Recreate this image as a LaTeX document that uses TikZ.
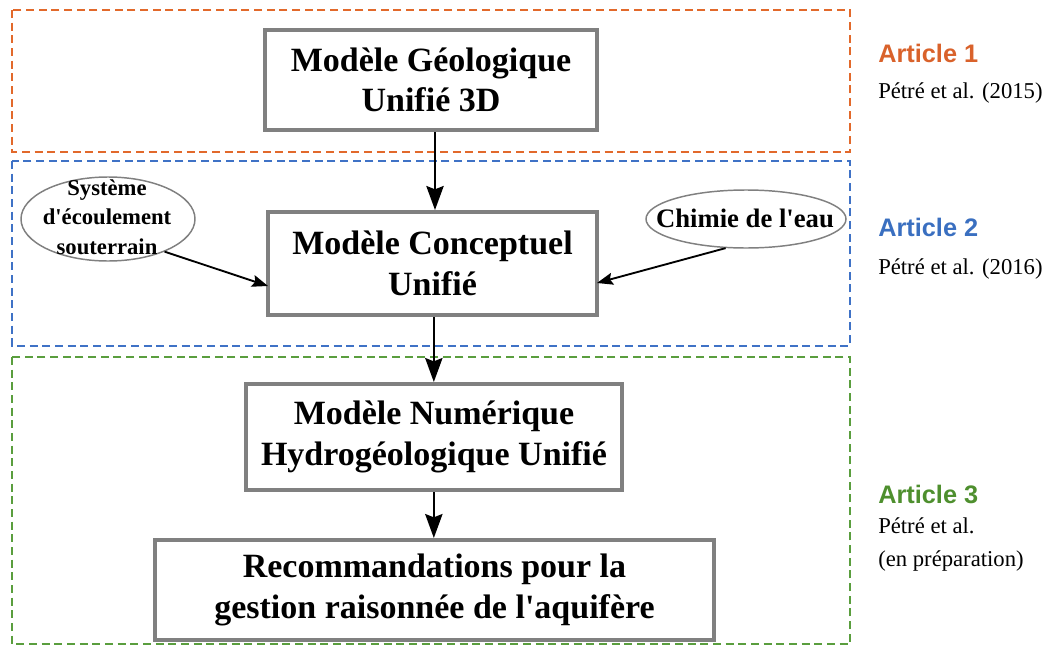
\documentclass[tikz,border=0pt]{standalone}
\usepackage{fontspec}
\setmainfont{Liberation Serif}[Ligatures=TeXOff]
\newfontfamily\labsans{Liberation Sans}
\usetikzlibrary{arrows.meta,shapes.geometric}
\definecolor{orgc}{HTML}{E2692B}
\definecolor{bluc}{HTML}{3F72C6}
\definecolor{grnc}{HTML}{5A9E3E}
\definecolor{orgt}{HTML}{D9622B}
\definecolor{blut}{HTML}{3A6FC0}
\definecolor{grnt}{HTML}{4E8F2E}
\definecolor{boxg}{HTML}{808080}
\tikzset{
  x=0.75pt,y=-0.75pt,
  zone/.style={line width=1.5pt,dash pattern=on 6pt off 3.5pt},
  mainbox/.style={draw=boxg,line width=3pt,fill=white,align=center,inner sep=0pt,
    font=\fontsize{25.5}{30.5}\selectfont\bfseries},
  oval/.style={draw=boxg,line width=1.1pt,ellipse,fill=white,align=center,inner sep=0pt},
  ovaltext/.style={align=center,inner sep=0pt,font=\fontsize{17}{22}\selectfont\bfseries},
  flow/.style={line width=1.5pt,-{Stealth[length=18pt,width=13pt,inset=2.5pt]}},
  side/.style={line width=1.4pt,-{Stealth[length=12pt,width=9pt,inset=2pt]}},
  arttitle/.style={anchor=base west,inner sep=0pt,font=\labsans\fontsize{19}{22}\selectfont\bfseries},
  artref/.style={anchor=base west,inner sep=0pt,font=\fontsize{17}{22}\selectfont},
}
\begin{document}
\begin{tikzpicture}
\useasboundingbox (0,0) rectangle (1050,646);
% zones
\draw[zone,orgc] (12,10) rectangle (850,152);
\draw[zone,bluc] (12,161) rectangle (850,346);
\draw[zone,grnc] (12,357) rectangle (850,644);
% boxes
\node[mainbox,minimum width=332*0.75pt,minimum height=100*0.75pt] (geo) at (431,80) {Modèle Géologique\\Unifié 3D};
\node[mainbox,minimum width=329*0.75pt,minimum height=103*0.75pt] (conc) at (432.5,263.5) {Modèle Conceptuel\\Unifié};
\node[mainbox,minimum width=376*0.75pt,minimum height=106*0.75pt] (num) at (434,437) {Modèle Numérique\\Hydrogéologique Unifié};
\node[mainbox,minimum width=559*0.75pt,minimum height=100*0.75pt] (rec) at (434.5,590) {Recommandations pour la\\gestion raisonnée de l'aquifère};
% ovals
\node[oval,minimum width=174*0.75pt,minimum height=84*0.75pt] (sys) at (108,219) {};
\node[ovaltext] (systext) at (107,217) {Système\\d'écoulement\\souterrain};
\node[oval,minimum width=200*0.75pt,minimum height=58*0.75pt] (chim) at (746,219) {};
\node[ovaltext,font=\fontsize{20}{22}\selectfont\bfseries] (chimtext) at (745,218) {Chimie de l'eau};
% connectors
\draw[flow] ([xshift=3pt]geo.south) -- ([xshift=3pt]geo.south |- conc.north);
\draw[flow] ([xshift=1pt]conc.south) -- ([xshift=1pt]conc.south |- num.north);
\draw[flow] ([xshift=1pt]num.south -| conc.south) -- ([xshift=1pt]conc.south |- rec.north);
\coordinate (cl) at (268,286);
\coordinate (cr) at (597,283);
\draw[side] (sys.-30) -- (cl);
\draw[side] (chim.-125) -- (cr);
% article labels
\node[arttitle,text=orgt] (a1) at (878,62) {Article 1};
\node[artref] (r1) at (878,98) {Pétré et al. (2015)};
\node[arttitle,text=blut] (a2) at (878,236) {Article 2};
\node[artref] (r2) at (878,274) {Pétré et al. (2016)};
\node[arttitle,text=grnt] (a3) at (878,503) {Article 3};
\node[artref] (r3a) at (878,533) {Pétré et al.};
\node[artref] (r3b) at (878,566) {(en préparation)};
\end{tikzpicture}
\end{document}
